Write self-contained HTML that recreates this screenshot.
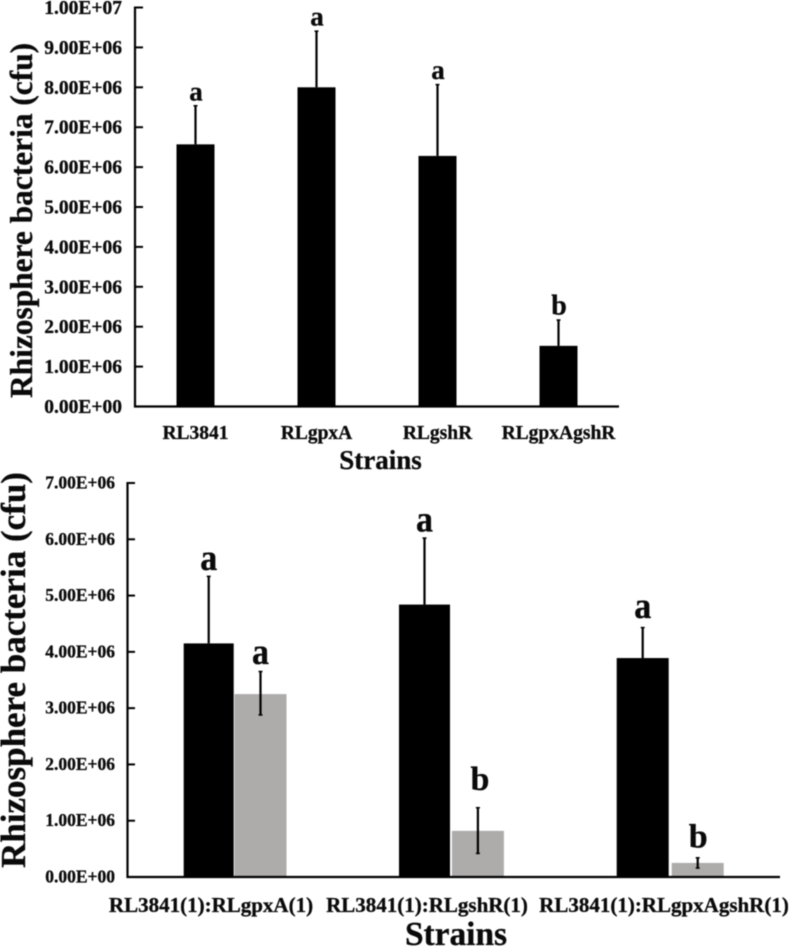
<!DOCTYPE html>
<html>
<head>
<meta charset="utf-8">
<title>Rhizosphere bacteria charts</title>
<style>
html,body{margin:0;padding:0;background:#fff;width:790px;height:949px;overflow:hidden}
svg{display:block;filter:blur(0.45px)}
text{font-family:"Liberation Serif",serif;font-weight:bold;fill:#0a0a0a;stroke:#0a0a0a;stroke-width:0.3px}
</style>
</head>
<body>
<svg id="chart" width="790" height="949" viewBox="0 0 790 949" xmlns="http://www.w3.org/2000/svg"></svg>
<script>
// Top chart data
const topCategories = ['RL3841', 'RLgpxA', 'RLgshR', 'RLgpxAgshR'];
const topValues = [6570000, 8000000, 6280000, 1520000];
const topErrorTops = [7550000, 9420000, 8080000, 2180000];
const topLetters = ['a', 'a', 'a', 'b'];
const topTicks = ['0.00E+00', '1.00E+06', '2.00E+06', '3.00E+06', '4.00E+06', '5.00E+06', '6.00E+06', '7.00E+06', '8.00E+06', '9.00E+06', '1.00E+07'];
const topTickValues = [0, 1000000, 2000000, 3000000, 4000000, 5000000, 6000000, 7000000, 8000000, 9000000, 10000000];

// Bottom chart data
const bottomCategories = ['RL3841(1):RLgpxA(1)', 'RL3841(1):RLgshR(1)', 'RL3841(1):RLgpxAgshR(1)'];
const bottomBlackValues = [4150000, 4840000, 3890000];
const bottomBlackErrorTops = [5350000, 6030000, 4440000];
const bottomBlackLetters = ['a', 'a', 'a'];
const bottomGrayValues = [3250000, 820000, 250000];
const bottomGrayErrorTops = [3660000, 1240000, 350000];
const bottomGrayErrorBottoms = [2870000, 410000, 150000];
const bottomGrayLetters = ['a', 'b', 'b'];
const bottomTicks = ['0.00E+00', '1.00E+06', '2.00E+06', '3.00E+06', '4.00E+06', '5.00E+06', '6.00E+06', '7.00E+06'];
const bottomTickValues = [0, 1000000, 2000000, 3000000, 4000000, 5000000, 6000000, 7000000];

const NS = 'http://www.w3.org/2000/svg';
const svg = document.getElementById('chart');

function yTop(v) { return 406.5 - v / 10000000 * 399; }
function xTop(i) { return 195.5 + i * 121; }
function yBottom(v) { return 877 - v / 7000000 * 394; }
function xBottom(i) { return 208.7 + i * 217 - (i === 1 ? 1.2 : 0); }
function xGray(i) { return xBottom(i) + 51.8 + i * 1.6; }

function line(x1, y1, x2, y2, w, name) {
  const el = document.createElementNS(NS, 'line');
  el.setAttribute('x1', x1);
  el.setAttribute('y1', y1);
  el.setAttribute('x2', x2);
  el.setAttribute('y2', y2);
  el.setAttribute('stroke', '#000');
  el.setAttribute('stroke-width', w);
  
  
  svg.appendChild(el);
  return el;
}
function rect(x, y, w, h, fill, name) {
  const el = document.createElementNS(NS, 'rect');
  el.setAttribute('x', x);
  el.setAttribute('y', y);
  el.setAttribute('width', w);
  el.setAttribute('height', h);
  el.setAttribute('fill', fill);
  
  
  svg.appendChild(el);
  return el;
}
function label(str, x, y, size, anchor, name, rotate, stretch) {
  const el = document.createElementNS(NS, 'text');
  el.textContent = str;
  el.setAttribute('x', x);
  el.setAttribute('y', y);
  el.setAttribute('font-size', size);
  el.setAttribute('text-anchor', anchor);
  if (rotate) {
    el.setAttribute('transform', 'rotate(-90 ' + x + ' ' + y + ')');
  }
  if (stretch) {
    el.setAttribute('transform', 'translate(' + x + ' ' + y + ') scale(1 ' + stretch + ') translate(' + (-x) + ' ' + (-y) + ')');
  }
  
  
  svg.appendChild(el);
  return el;
}

// ---- top chart ----
topCategories.forEach(function (c, i) {
  const cx = xTop(i);
  line(cx, yTop(topValues[i]), cx, yTop(topErrorTops[i]), 2.2, 'error-bar-top-' + c);
  line(cx - 2, yTop(topErrorTops[i]) + 0.5, cx + 2, yTop(topErrorTops[i]) + 0.5, 1.5, 'error-cap-top-' + c);
  rect(cx - 19, yTop(topValues[i]), 38, 406.5 - yTop(topValues[i]), '#000', 'bar-top-' + c);
  label(topLetters[i], cx + 0.5, yTop(topErrorTops[i]) - 5, i === 3 ? 28 : 27, 'middle', 'significance-top-' + c);
  label(c, cx, 439, 19.5, 'middle', 'x-tick-label-top-' + c);
});
line(135, 6.5, 135, 407.5, 2.2, 'y-axis-top');
line(134, 406.5, 619, 406.5, 2.2, 'x-axis-top');
topTicks.forEach(function (t, i) {
  const ty = yTop(topTickValues[i]);
  line(135, ty, 143, ty, 2, 'y-tick-top-' + t);
  label(t, 122, ty + 6.5, 19.5, 'end', 'y-tick-label-top-' + t);
});
label('Rhizosphere bacteria (cfu)', 32, 398, 31.4, 'start', 'y-axis-title-top', true);
label('Strains', 380.5, 469, 27, 'middle', 'x-axis-title-top');

// ---- bottom chart ----
bottomCategories.forEach(function (c, i) {
  const cx = xBottom(i);
  const gx = xGray(i);
  const blackWidth = 50 + i;
  line(cx, yBottom(bottomBlackValues[i]), cx, yBottom(bottomBlackErrorTops[i]), 2.2, 'error-bar-black-' + c);
  line(cx - 2, yBottom(bottomBlackErrorTops[i]) + 0.5, cx + 2, yBottom(bottomBlackErrorTops[i]) + 0.5, 1.5, 'error-cap-black-' + c);
  rect(cx - blackWidth / 2, yBottom(bottomBlackValues[i]), blackWidth, 877 - yBottom(bottomBlackValues[i]), '#000', 'bar-black-' + c);
  rect(gx - 26, yBottom(bottomGrayValues[i]), 52, 877 - yBottom(bottomGrayValues[i]), '#aeabab', 'bar-gray-' + c);
  line(gx, yBottom(bottomGrayErrorTops[i]), gx, yBottom(bottomGrayErrorBottoms[i]), 2.2, 'error-bar-gray-' + c);
  line(gx - 2, yBottom(bottomGrayErrorTops[i]) + 0.5, gx + 2, yBottom(bottomGrayErrorTops[i]) + 0.5, 1.5, 'error-cap-gray-top-' + c);
  line(gx - 2, yBottom(bottomGrayErrorBottoms[i]) - 0.5, gx + 2, yBottom(bottomGrayErrorBottoms[i]) - 0.5, 1.5, 'error-cap-gray-bottom-' + c);
  label(bottomBlackLetters[i], cx, yBottom(bottomBlackErrorTops[i]) - (i === 2 ? 9 : 6), 34, 'middle', 'significance-black-' + c, false, 1.1);
  if (bottomGrayLetters[i] === 'b') {
    label(bottomGrayLetters[i], gx + (i === 1 ? 2 : 0.5), yBottom(bottomGrayErrorTops[i]) - (i === 1 ? 17 : 10), 34, 'middle', 'significance-gray-' + c);
  } else {
    label(bottomGrayLetters[i], gx, yBottom(bottomGrayErrorTops[i]) - 7, 34, 'middle', 'significance-gray-' + c, false, 1.1);
  }
  label(c, 211 + i * 216 + (i === 2 ? 21 : 0), 912, 21, 'middle', 'x-tick-label-bottom-' + c);
});
line(127.5, 482, 127.5, 878, 2.2, 'y-axis-bottom');
line(126.5, 877, 780, 877, 2.2, 'x-axis-bottom');
bottomTicks.forEach(function (t, i) {
  const ty = yBottom(bottomTickValues[i]);
  line(127.5, ty, 135, ty, 2, 'y-tick-bottom-' + t);
  label(t, 115, ty + 5.5, 17.5, 'end', 'y-tick-label-bottom-' + t);
});
label('Rhizosphere bacteria (cfu)', 25, 868, 35, 'start', 'y-axis-title-bottom', true);
label('Strains', 456, 945, 33.4, 'middle', 'x-axis-title-bottom');
</script>
</body>
</html>
